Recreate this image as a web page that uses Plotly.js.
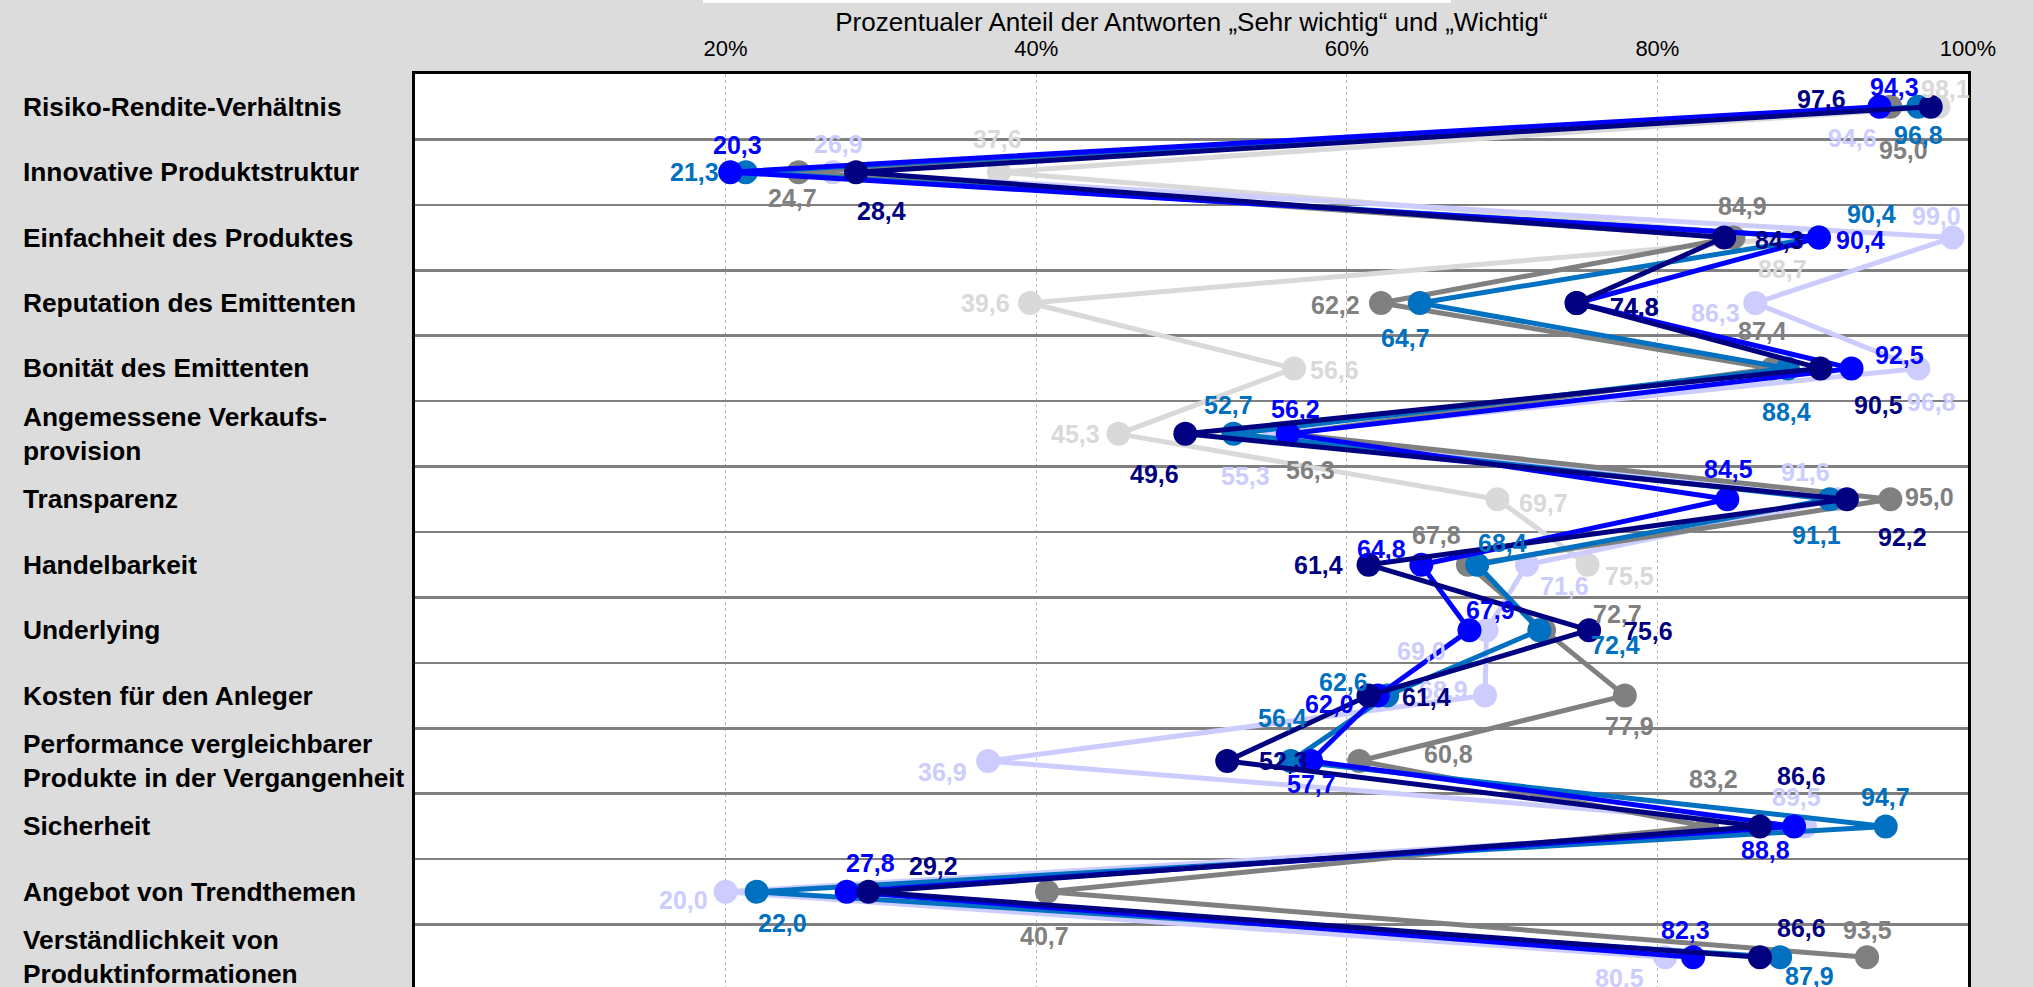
<!DOCTYPE html>
<html>
<head>
<meta charset="utf-8">
<script src="https://cdn.plot.ly/plotly-3.0.1.min.js"></script>
<style>
html,body{margin:0;padding:0;background:#dcdcdc;overflow:hidden}
#wrap{width:2033px;height:987px;overflow:hidden}
</style>
</head>
<body>
<div id="wrap"><div id="chart"></div></div>
<script>
// ---------- data ----------
const categories = [
  "Risiko-Rendite-Verhältnis",
  "Innovative Produktstruktur",
  "Einfachheit des Produktes",
  "Reputation des Emittenten",
  "Bonität des Emittenten",
  "Angemessene Verkaufsprovision",
  "Transparenz",
  "Handelbarkeit",
  "Underlying",
  "Kosten für den Anleger",
  "Performance vergleichbarer Produkte in der Vergangenheit",
  "Sicherheit",
  "Angebot von Trendthemen",
  "Verständlichkeit von Produktinformationen"
];
const categoryTickLabels = [
  "Risiko-Rendite-Verhältnis",
  "Innovative Produktstruktur",
  "Einfachheit des Produktes",
  "Reputation des Emittenten",
  "Bonität des Emittenten",
  "Angemessene Verkaufs-<br>provision",
  "Transparenz",
  "Handelbarkeit",
  "Underlying",
  "Kosten für den Anleger",
  "Performance vergleichbarer<br>Produkte in der Vergangenheit",
  "Sicherheit",
  "Angebot von Trendthemen",
  "Verständlichkeit von<br>Produktinformationen"
];
const xTickValues = [20, 40, 60, 80, 100];
const axisTitle = "Prozentualer Anteil der Antworten \u201ESehr wichtig\u201C und \u201EWichtig\u201C";

const seriesLightGray = [98.1, 37.6, 88.7, 39.6, 56.6, 45.3, 69.7, 75.5];
const seriesLavender  = [94.6, 26.9, 99.0, 86.3, 96.8, 55.3, 91.6, 71.6, 69.0, 68.9, 36.9, 89.5, 20.0, 80.5];
const seriesGray      = [95.0, 24.7, 84.9, 62.2, 87.4, 56.3, 95.0, 67.8, 72.7, 77.9, 60.8, 83.2, 40.7, 93.5];
const seriesSteel     = [96.8, 21.3, 90.4, 64.7, 88.4, 52.7, 91.1, 68.4, 72.4, 62.6, 56.4, 94.7, 22.0, 87.9];
const seriesBlue      = [94.3, 20.3, 90.4, 74.8, 92.5, 56.2, 84.5, 64.8, 67.9, 62.0, 57.7, 88.8, 27.8, 82.3];
const seriesNavy      = [97.6, 28.4, 84.3, 74.8, 90.5, 49.6, 92.2, 61.4, 75.6, 61.4, 52.3, 86.6, 29.2, 86.6];

// ---------- styling (label offsets in px: [dx, dy], dy positive = down) ----------
const offLightGray = [[7,-18],[-1,-33],[-10,31],[-44,0],[40,2],[-43,0],[46,4],[42,11]];
const offLavender  = [[-32,31],[6,-28],[-16,-22],[-40,10],[13,34],[-28,42],[-32,-27],[38,21],[-65,21],[-42,-6],[-46,11],[-8,-29],[-42,8],[-46,21]];
const offGray      = [[13,43],[-6,26],[9,-32],[-45,2],[-10,-37],[21,36],[39,-2],[-31,-30],[73,-16],[5,30],[89,-7],[6,-47],[-3,44],[0,-27]];
const offSteel     = [[0,28],[-51,0],[53,-24],[-14,35],[-1,44],[-5,-29],[-13,36],[25,-22],[76,15],[-44,-14],[-8,-43],[0,-29],[26,31],[29,19]];
const offBlue      = [[15,-20],[7,-27],[42,2],[58,4],[48,-13],[8,-25],[1,-30],[-40,-16],[21,-20],[-48,8],[0,23],[-29,24],[24,-29],[-8,-27]];
const offNavy      = [[-109,-8],[25,39],[55,2],[58,4],[58,37],[-31,40],[56,38],[-50,0],[59,1],[58,1],[56,0],[42,-50],[65,-26],[42,-29]];

const series = [
  {values: seriesLightGray, color: '#d9d9d9', offsets: offLightGray},
  {values: seriesLavender,  color: '#ccccff', offsets: offLavender},
  {values: seriesGray,      color: '#808080', offsets: offGray},
  {values: seriesSteel,     color: '#0070c0', offsets: offSteel},
  {values: seriesBlue,      color: '#0000ff', offsets: offBlue},
  {values: seriesNavy,      color: '#000080', offsets: offNavy}
];

const FONT = 'Liberation Sans, Arial, Helvetica, sans-serif';
const fmt = v => v.toFixed(1).replace('.', ',');

const traces = series.map(s => ({
  type: 'scatter',
  mode: 'lines+markers',
  x: s.values,
  y: categories.slice(0, s.values.length),
  line: {color: s.color, width: 5},
  marker: {color: s.color, size: 24},
  hoverinfo: 'skip',
  showlegend: false,
  cliponaxis: true
}));

const annotations = [];
categories.forEach((c, i) => {
  annotations.push({
    xref: 'paper', yref: 'y', x: -0.2537, y: c,
    xanchor: 'left', yanchor: 'middle', align: 'left',
    text: categoryTickLabels[i], showarrow: false,
    font: {family: FONT, size: 26.3, color: '#000000', weight: 'bold'}
  });
});
series.forEach(s => {
  s.values.forEach((v, i) => {
    if (v === null || v === undefined) return;
    const o = s.offsets[i] || [0, 0];
    annotations.push({
      xref: 'x', yref: 'y', x: v, y: categories[i],
      xanchor: 'center', yanchor: 'middle',
      xshift: o[0], yshift: -o[1],
      text: fmt(v), showarrow: false,
      font: {family: FONT, size: 25, color: s.color, weight: 'bold'}
    });
  });
});

const layout = {
  width: 2033, height: 1000,
  margin: {l: 415, r: 65, t: 74, b: 10, pad: 0},
  paper_bgcolor: '#dcdcdc',
  plot_bgcolor: '#ffffff',
  font: {family: FONT, color: '#000000'},
  title: {
    text: axisTitle,
    font: {family: FONT, size: 26, color: '#000000'},
    xref: 'paper', x: 0.5, xanchor: 'center',
    yref: 'container', y: 0.978, yanchor: 'middle'
  },
  xaxis: {
    side: 'top', range: [0, 100],
    tickmode: 'array', tickvals: xTickValues, ticktext: xTickValues.map(v => v + '%'),
    tickfont: {family: FONT, size: 22, color: '#000000'},
    ticks: 'outside', ticklen: 6, tickcolor: 'rgba(0,0,0,0)',
    showgrid: true, gridcolor: '#b8b8b8', gridwidth: 1, griddash: 'dot',
    zeroline: false,
    showline: true, mirror: true, linecolor: '#000000', linewidth: 3
  },
  yaxis: {
    type: 'category', categoryorder: 'array', categoryarray: categories,
    range: [13.5, -0.5],
    tickson: 'boundaries', ticks: '', showticklabels: false,
    showgrid: true, gridcolor: '#808080', gridwidth: 2.5,
    zeroline: false,
    showline: true, mirror: true, linecolor: '#000000', linewidth: 3
  },
  shapes: [{
    type: 'rect', xref: 'paper', yref: 'paper',
    x0: 0.1855, x1: 0.6671, y0: 1.0775, y1: 1.0808,
    fillcolor: '#ffffff', line: {width: 0}, layer: 'above'
  }],
  annotations: annotations
};

Plotly.newPlot('chart', traces, layout, {staticPlot: true, displayModeBar: false});
</script>
</body>
</html>
